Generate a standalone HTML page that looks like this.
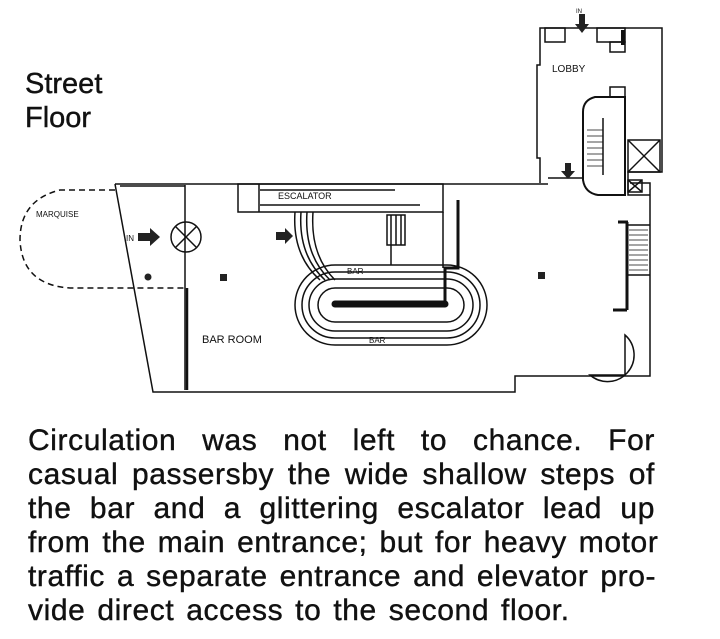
<!DOCTYPE html>
<html><head><meta charset="utf-8"><style>
html,body{margin:0;padding:0;background:#fff;}
svg{display:block;position:absolute;left:0;top:0;}
text{font-family:"Liberation Sans",sans-serif;fill:#111;}
#body{position:absolute;left:28px;top:424px;width:627px;font-family:"Liberation Sans",sans-serif;font-size:30px;line-height:34px;color:#111;-webkit-text-stroke:0.4px #111;letter-spacing:0.6px;word-spacing:3px;}
#body div{text-align:justify;text-align-last:justify;white-space:nowrap;}
#body div.last{text-align-last:left;}
</style></head><body>
<svg width="720" height="639" viewBox="0 0 720 639" xmlns="http://www.w3.org/2000/svg">
<text x="25" y="93" font-size="29" stroke="#111" stroke-width="0.4">Street</text>
<text x="25" y="127" font-size="29" stroke="#111" stroke-width="0.4">Floor</text>

<g fill="none" stroke="#111" stroke-width="1.5">
<path d="M115,184 L548,184 M115,184 L153,392 L515,392 L515,376 L650,376 L650,183 L630,183"/>
<line x1="120" y1="186" x2="185" y2="186"/>
<path d="M115,190 L60,190 Q20,200 20,240 Q22,285 70,288 L185,288" stroke-dasharray="6,4"/>
<line x1="185" y1="185" x2="185" y2="390"/>
<line x1="187" y1="288" x2="187" y2="390" stroke-width="2.5"/>
<circle cx="186" cy="237" r="15"/>
<line x1="175" y1="226" x2="197" y2="248"/><line x1="197" y1="226" x2="175" y2="248"/>
<rect x="238" y="184" width="205" height="28"/>
<line x1="259" y1="184" x2="259" y2="212"/>
<line x1="260" y1="190" x2="395" y2="190"/>
<line x1="260" y1="205" x2="420" y2="205"/>
<line x1="443" y1="212" x2="443" y2="268"/>
<path d="M458,200 L458,268 L445,268 L445,305" stroke-width="3"/>
<path d="M295,212 Q292,255 320,280 M301,212 Q298,255 325,280 M307,212 Q304,255 330,280 M313,212 Q310,255 335,280"/>
<rect x="387" y="215" width="18" height="30"/>
<line x1="391" y1="215" x2="391" y2="245"/><line x1="396" y1="215" x2="396" y2="245"/><line x1="401" y1="215" x2="401" y2="245"/>
<line x1="391" y1="245" x2="391" y2="265"/>
<rect x="295" y="265" width="192" height="80" rx="40"/>
<rect x="302" y="272" width="178" height="66" rx="33"/>
<rect x="309" y="279" width="164" height="52" rx="26"/>
<rect x="318" y="288" width="146" height="34" rx="17"/>
<line x1="335" y1="304" x2="445" y2="304" stroke-width="7" stroke-linecap="round"/>
<line x1="618" y1="222" x2="628" y2="222" stroke-width="3"/>
<line x1="627" y1="222" x2="627" y2="310" stroke-width="3"/>
<line x1="613" y1="310" x2="627" y2="310" stroke-width="3"/>
<path d="M627,225 L650,225 M627,275 L650,275"/>
<path d="M629,230h19M629,235h19M629,240h19M629,245h19M629,250h19M629,255h19M629,260h19M629,265h19M629,270h19" stroke-width="0.8"/>
<path d="M625,335 A23,23 0 0 1 590,375 L625,375 Z"/>
<path d="M540,183 L540,158 L537,158 L537,65 L540,65 L540,28 L662,28 L662,172 L628,172 L628,195 L650,195"/>
<rect x="545" y="28" width="20" height="14"/>
<rect x="597" y="28" width="28" height="14"/>
<rect x="610" y="42" width="15" height="10"/>
<line x1="623" y1="30" x2="623" y2="45" stroke-width="4"/>
<rect x="610" y="87" width="15" height="10"/>
<path d="M625,97 L595,97 Q583,100 583,112 L583,180 Q585,193 598,195 L625,195 Z" stroke-width="2"/>
<path d="M587,130h16M587,136h16M587,142h16M587,148h16M587,154h16M587,160h16M587,166h16" stroke-width="0.8"/>
<line x1="603" y1="118" x2="603" y2="175"/>
<rect x="628" y="140" width="32" height="32"/>
<line x1="628" y1="140" x2="660" y2="172"/><line x1="660" y1="140" x2="628" y2="172"/>
<rect x="628" y="180" width="14" height="12"/>
<line x1="628" y1="180" x2="642" y2="192"/><line x1="642" y1="180" x2="628" y2="192"/>
<line x1="548" y1="178" x2="583" y2="178"/>
</g>
<g fill="#222">
<rect x="138" y="233" width="12" height="8"/><path d="M150,228 L160,237 L150,246 Z"/>
<rect x="276" y="232" width="9" height="8"/><path d="M285,228 L293,236 L285,244 Z"/>
<rect x="579" y="14" width="6" height="10"/><path d="M575,24 L589,24 L582,33 Z"/>
<rect x="565" y="163" width="6" height="8"/><path d="M561,171 L575,171 L568,179 Z"/>
<circle cx="148" cy="277" r="3.5"/>
<rect x="220" y="274" width="7" height="7"/>
<rect x="538" y="272" width="7" height="7"/>
</g>
<g font-size="8">
<text x="36" y="217">MARQUISE</text>
<text x="126" y="241">IN</text>
<text x="278" y="199" font-size="9">ESCALATOR</text>
<text x="347" y="274">BAR</text>
<text x="369" y="343">BAR</text>
<text x="576" y="13" font-size="6">IN</text>
<text x="552" y="72" font-size="10">LOBBY</text>
</g>
<text x="202" y="343" font-size="11">BAR ROOM</text>
</svg>
<div id="body">
<div>Circulation was not left to chance. For</div>
<div>casual passersby the wide shallow steps of</div>
<div>the bar and a glittering escalator lead up</div>
<div>from the main entrance; but for heavy motor</div>
<div>traffic a separate entrance and elevator pro-</div>
<div class="last">vide direct access to the second floor.</div>
</div>
</body></html>
